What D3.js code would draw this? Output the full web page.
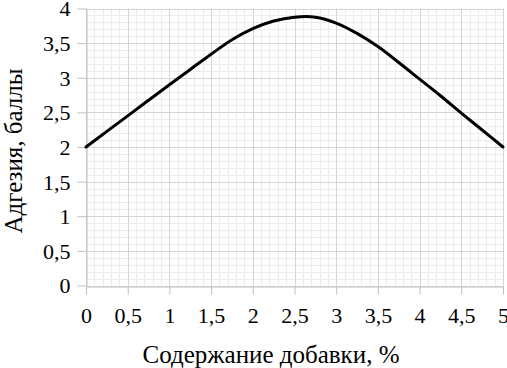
<!DOCTYPE html>
<html><head><meta charset="utf-8">
<script src="https://cdn.jsdelivr.net/npm/d3@7"></script>
<style>body{margin:0;background:#fff}svg{display:block}</style>
</head><body>
<svg id="c" width="507" height="368"></svg>
<script>
const xValues = [0, 0.25, 0.5, 0.75, 1, 1.25, 1.5, 1.75, 2, 2.25, 2.5, 2.75, 3, 3.25, 3.5, 3.75, 4, 4.25, 4.5, 4.75, 5];
const yValues = [2, 2.225, 2.45, 2.675, 2.9, 3.12, 3.34, 3.55, 3.71, 3.82, 3.875, 3.875, 3.79, 3.64, 3.45, 3.22, 2.98, 2.74, 2.49, 2.245, 2.0];
const xTicks = [0, 0.5, 1, 1.5, 2, 2.5, 3, 3.5, 4, 4.5, 5];
const yTicks = [0, 0.5, 1, 1.5, 2, 2.5, 3, 3.5, 4];
const xTitle = "Содержание добавки, %";
const yTitle = "Адгезия, баллы";

const svg = d3.select("#c");
const L = 86, R = 503, T = 8.5, B = 285.5;
const x = d3.scaleLinear().domain([0, 5]).range([L, R]);
const y = d3.scaleLinear().domain([0, 4]).range([B, T]);
const fmt = d => String(d).replace(".", ",");
const font = "Liberation Serif";

// minor grid
const minorX = d3.range(0, 5.0001, 0.1);
const minorY = d3.range(0, 4.0001, 0.1);
svg.append("g").selectAll("line").data(minorX).join("line")
  .attr("x1", d => Math.round(x(d)) + 0.5).attr("x2", d => Math.round(x(d)) + 0.5)
  .attr("y1", T).attr("y2", B).attr("stroke", "#ececec").attr("stroke-width", 1);
svg.append("g").selectAll("line").data(minorY).join("line")
  .attr("y1", d => Math.round(y(d)) + 0.5).attr("y2", d => Math.round(y(d)) + 0.5)
  .attr("x1", L).attr("x2", R).attr("stroke", "#ececec").attr("stroke-width", 1);
// major grid
svg.append("g").selectAll("line").data(xTicks).join("line")
  .attr("x1", d => Math.round(x(d)) + 0.5).attr("x2", d => Math.round(x(d)) + 0.5)
  .attr("y1", T).attr("y2", B).attr("stroke", "#d4d4d4").attr("stroke-width", 1);
svg.append("g").selectAll("line").data(yTicks).join("line")
  .attr("y1", d => Math.round(y(d)) + 0.5).attr("y2", d => Math.round(y(d)) + 0.5)
  .attr("x1", L).attr("x2", R).attr("stroke", "#d4d4d4").attr("stroke-width", 1);

// axes
const xAxis = svg.append("g").attr("transform", `translate(0,${Math.round(B)+0.5})`)
  .call(d3.axisBottom(x).tickValues(xTicks).tickFormat(fmt).tickSizeInner(8).tickSizeOuter(0).tickPadding(13));
const yAxis = svg.append("g").attr("transform", `translate(${L+0.5},0)`)
  .call(d3.axisLeft(y).tickValues(yTicks).tickFormat(fmt).tickSizeInner(9).tickSizeOuter(0).tickPadding(7));
[xAxis, yAxis].forEach(a => {
  a.attr("font-family", null).attr("font-size", null);
  a.selectAll("path.domain").attr("stroke", "#bfbfbf");
  a.selectAll(".tick line").attr("stroke", "#bfbfbf");
  a.selectAll("text").attr("fill", "#000").attr("font-family", font).attr("font-size", 22);
});
yAxis.selectAll("text").attr("dy", "0.34em");

// curve
const pts = xValues.map((v, i) => [v, yValues[i]]);
svg.append("path").datum(pts)
  .attr("fill", "none").attr("stroke", "#000").attr("stroke-width", 3)
  .attr("stroke-linejoin", "round").attr("stroke-linecap", "round")
  .attr("d", d3.line().x(d => x(d[0])).y(d => y(d[1])).curve(d3.curveCatmullRom));

// titles
svg.append("text").attr("x", 271).attr("y", 363).attr("text-anchor", "middle")
  .attr("font-family", font).attr("font-size", 25).text(xTitle);
svg.append("text").attr("transform", `translate(22,151) rotate(-90)`).attr("text-anchor", "middle")
  .attr("font-family", font).attr("font-size", 25).text(yTitle);
</script>
</body></html>
